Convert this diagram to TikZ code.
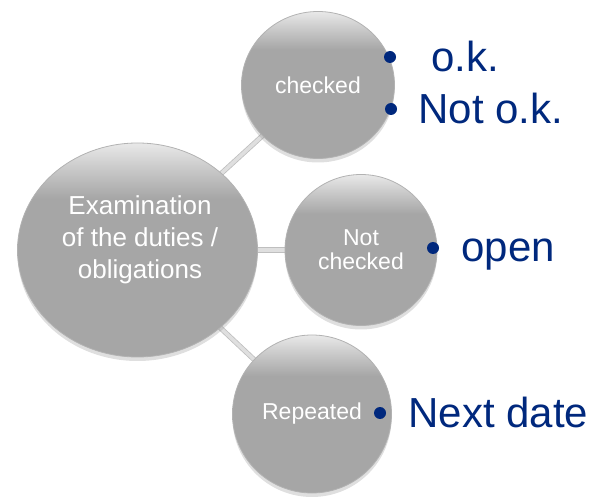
\documentclass[tikz,border=0pt]{standalone}
\usepackage{fontspec}
\setmainfont{Liberation Sans}
\usepackage{xcolor}
\usetikzlibrary{shapes.geometric}
\usetikzlibrary{shadows}
\usetikzlibrary{backgrounds}
\definecolor{navy}{RGB}{0,40,125}
\definecolor{ballgray}{RGB}{166,166,166}
\pgfdeclareverticalshading{ballshade}{100bp}{color(0bp)=(ballgray); color(25bp)=(ballgray); color(62bp)=(ballgray); color(70bp)=(ballgray!55!white); color(75bp)=(ballgray!25!white); color(100bp)=(ballgray!25!white)}

\begin{document}
\begin{tikzpicture}[x=1pt,y=-1pt,
    ball/.style={ellipse,draw=gray!60,line width=0.8pt,shading=ballshade,inner sep=0pt,
        text=white,align=center,font=\fontsize{23}{24}\selectfont,
        drop shadow={opacity=0.25,shadow xshift=0pt,shadow yshift=-4pt}},
    conn/.style={draw=gray!50,double=gray!25,double distance=3.5pt,line width=0.8pt},
    bul/.style={circle,fill=navy,inner sep=0pt,minimum size=12pt},
    item/.style={anchor=base west,text=navy,font=\fontsize{42}{42}\selectfont}]
                    \useasboundingbox (0,0) rectangle (595,497);
                    % circles
                    \node[ball,minimum width=240pt,minimum height=214pt] (big) at (137.5,250){};
                    \node[text=white,align=center,font=\fontsize{26}{32}\selectfont] (bigtxt) at (140,240){Examination\\of the duties /\\obligations};
                    \node[ball,minimum width=153pt,minimum height=147pt] (chk) at (318,85){checked};
                    \node[ball,minimum width=152pt,minimum height=151pt] (nchk) at (361,250){Not\\checked};
                    \node[ball,minimum width=159pt,minimum height=158pt] (rep) at (312,414){Repeated};

                    % connectors
                    \begin{scope}[on background layer]
                    \draw[conn] (big.center) -- (chk.center);
                    \draw[conn] (big.center) -- (nchk.center);
                    \draw[conn] (big.center) -- (rep.center);
                    \end{scope}

                    % bullets
                    \node[bul] (b1) at (390,57){};
                    \node[bul] (b2) at (391,109){};
                    \node[bul] (b3) at (433,248){};
                    \node[bul] (b4) at (380,413){};
                    \node[item] (ok) at (428,72){o.k.};
                    \node[item] (notok) at (415,124){Not o.k.};
                    \node[item] (open) at (458,262){open};
                    \node[item] (next) at (405,428){Next date};
\end{tikzpicture}
\end{document}
